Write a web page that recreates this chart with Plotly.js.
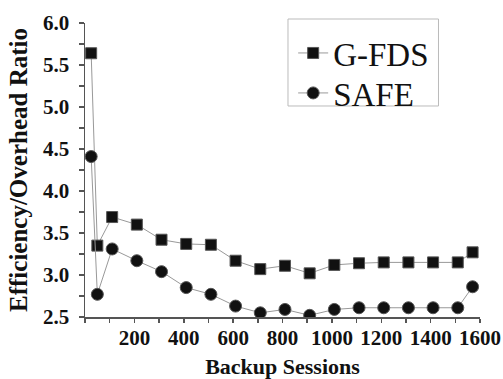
<!DOCTYPE html>
<html>
<head>
<meta charset="utf-8">
<script src="https://cdn.plot.ly/plotly-3.0.1.min.js"></script>
<style>html,body{margin:0;padding:0;background:#fff;}#chart{width:503px;height:379px;}</style>
</head>
<body>
<div id="chart"></div>
<script>
const sessions = [25, 50, 110, 210, 310, 410, 510, 610, 710, 810, 910, 1010, 1110, 1210, 1310, 1410, 1510, 1570];
const gfds = [5.64, 3.35, 3.69, 3.60, 3.42, 3.37, 3.36, 3.17, 3.07, 3.11, 3.02, 3.12, 3.14, 3.15, 3.15, 3.15, 3.15, 3.27];
const safe = [4.41, 2.77, 3.31, 3.17, 3.04, 2.85, 2.77, 2.63, 2.55, 2.59, 2.52, 2.59, 2.61, 2.61, 2.61, 2.61, 2.61, 2.86];
const xTicks = [200, 400, 600, 800, 1000, 1200, 1400, 1600];
const seriesNames = ["G-FDS", "SAFE"];

const serif = "'Liberation Serif', 'Times New Roman', Times, serif";
const traces = [
  {x: sessions, y: gfds, name: seriesNames[0], type: "scatter", mode: "lines+markers", legend: "legend",
   line: {color: "#999999", width: 1},
   marker: {symbol: "square", size: 11, color: "#111111", line: {color: "#555", width: 1}}},
  {x: sessions, y: safe, name: seriesNames[1], type: "scatter", mode: "lines+markers", legend: "legend2",
   line: {color: "#999999", width: 1},
   marker: {symbol: "circle", size: 12, color: "#111111", line: {color: "#555", width: 1}}}
];

const axisCommon = {
  showgrid: false, zeroline: false, showline: true, linecolor: "#555", linewidth: 1.5,
  ticks: "outside", ticklen: 5, tickwidth: 1.5, tickcolor: "#555",
  tickfont: {family: serif, size: 21, color: "#111", weight: "bold"}
};

const legendCommon = {
  xanchor: "left", yanchor: "middle", bgcolor: "rgba(0,0,0,0)", borderwidth: 0,
  font: {family: serif, size: 33, color: "#111"}, itemwidth: 30
};

const layout = {
  width: 503, height: 379,
  margin: {l: 85, r: 23, t: 23, b: 62},
  paper_bgcolor: "#fff", plot_bgcolor: "#fff",
  showlegend: true,
  xaxis: Object.assign({}, axisCommon, {
    range: [0, 1600], tickvals: xTicks, ticktext: xTicks.map(String),
    ticklen: 4, ticklabelstandoff: -3,
    minor: {dtick: 100, tick0: 0, ticks: "outside", ticklen: 4, tickwidth: 1.5, tickcolor: "#555"},
    title: {text: "Backup Sessions", font: {family: serif, size: 22, color: "#111", weight: "bold"}, standoff: 14}
  }),
  yaxis: Object.assign({}, axisCommon, {
    range: [2.5, 6.0], dtick: 0.5, tick0: 2.5, tickformat: ".1f",
    ticklabelstandoff: 5,
    minor: {dtick: 0.25, tick0: 2.5, ticks: "outside", ticklen: 5, tickwidth: 1.5, tickcolor: "#555"},
    title: {text: "Efficiency/Overhead Ratio", font: {family: serif, size: 25, color: "#111", weight: "bold"}, standoff: 8}
  }),
  legend: Object.assign({}, legendCommon, {x: 0.527, y: 0.898}),
  legend2: Object.assign({}, legendCommon, {x: 0.527, y: 0.762}),
  shapes: [{type: "rect", xref: "paper", yref: "paper", x0: 0.5139, x1: 0.8949, y0: 0.7177, y1: 1.0136,
            line: {color: "#bbbbbb", width: 1}, fillcolor: "rgba(0,0,0,0)", layer: "below"}]
};

Plotly.newPlot("chart", traces, layout, {staticPlot: true, displayModeBar: false});
</script>
</body>
</html>
